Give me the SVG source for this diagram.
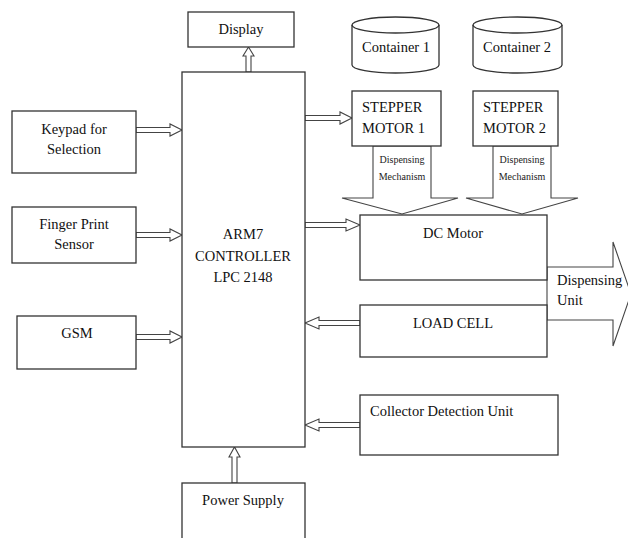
<svg xmlns="http://www.w3.org/2000/svg" width="628" height="538" viewBox="0 0 628 538">
<style>
.b{fill:#fff;stroke:#333;stroke-width:1.3}
.a{fill:#fff;stroke:#444;stroke-width:1.1;stroke-linejoin:miter}
text{font-family:'Liberation Serif','Times New Roman',serif}
.t{font-size:14.5px;fill:#111}
.s{font-size:10px;fill:#222}
.m{text-anchor:middle}
</style>
<rect width="628" height="538" fill="#fff"/>
<g id="connectors">
<polygon class="a" points="246,72 246,56 243,56 248.5,47 254,56 251,56 251,72"/>
<polygon class="a" points="136,127.5 170,127.5 170,124 182,130 170,136 170,132.5 136,132.5"/>
<polygon class="a" points="136,232.5 170,232.5 170,229 182,235 170,241 170,237.5 136,237.5"/>
<polygon class="a" points="136,334.5 170,334.5 170,331 182,337 170,343 170,339.5 136,339.5"/>
<polygon class="a" points="305,115.5 340,115.5 340,112 352,118 340,124 340,120.5 305,120.5"/>
<polygon class="a" points="305,222.5 346,222.5 346,219 360,225 346,231 346,227.5 305,227.5"/>
<polygon class="a" points="360,320.5 319,320.5 319,317 305,323 319,329 319,325.5 360,325.5"/>
<polygon class="a" points="360,422.5 319,422.5 319,419 305,425 319,431 319,427.5 360,427.5"/>
<polygon class="a" points="232,483 232,457 229,457 234.5,447 240,457 237,457 237,483"/>
<polygon class="a" points="373,146 431,146 431,198 458,198 402,214 342,198 373,198"/>
<polygon class="a" points="493,146 551,146 551,198 578,198 522,214 466,198 493,198"/>
<polygon class="a" points="547,267 613,267 613,242 631,294 613,346 613,320 547,320"/>
<text class="s" x="402" y="163" text-anchor="middle">Dispensing</text>
<text class="s" x="402" y="180" text-anchor="middle">Mechanism</text>
<text class="s" x="522" y="163" text-anchor="middle">Dispensing</text>
<text class="s" x="522" y="180" text-anchor="middle">Mechanism</text>
<text class="t" x="557" y="285">Dispensing</text>
<text class="t" x="557" y="305">Unit</text>
</g>
<g id="display"><rect class="b" x="188" y="12" width="106" height="35"/><text class="t m" x="241" y="34">Display</text></g>
<g id="arm7"><rect class="b" x="182" y="72" width="123" height="375"/>
<text class="t m" x="243" y="239">ARM7</text><text class="t m" x="243" y="261">CONTROLLER</text><text class="t m" x="243" y="282">LPC 2148</text></g>
<g id="keypad"><rect class="b" x="12" y="111" width="124" height="62"/><text class="t m" x="74" y="134">Keypad for</text><text class="t m" x="74" y="154">Selection</text></g>
<g id="finger"><rect class="b" x="12" y="207" width="124" height="56"/><text class="t m" x="74" y="229">Finger Print</text><text class="t m" x="74" y="249">Sensor</text></g>
<g id="gsm"><rect class="b" x="17" y="316" width="119" height="53"/><text class="t m" x="77" y="338">GSM</text></g>
<g id="container1"><path class="b" d="M352,25 A43.5,8 0 0 1 439,25 V65 A43.5,8 0 0 1 352,65 Z"/><path fill="none" stroke="#333" stroke-width="1.3" d="M352,25 A43.5,8 0 0 0 439,25"/><text class="t m" x="396" y="52">Container 1</text></g>
<g id="container2"><path class="b" d="M473,25 A44.5,8 0 0 1 562,25 V65 A44.5,8 0 0 1 473,65 Z"/><path fill="none" stroke="#333" stroke-width="1.3" d="M473,25 A44.5,8 0 0 0 562,25"/><text class="t m" x="517" y="52">Container 2</text></g>
<g id="stepper1"><rect class="b" x="352" y="91" width="89" height="55"/><text class="t" x="362" y="112">STEPPER</text><text class="t" x="362" y="133">MOTOR 1</text></g>
<g id="stepper2"><rect class="b" x="473" y="91" width="85" height="55"/><text class="t" x="483" y="112">STEPPER</text><text class="t" x="483" y="133">MOTOR 2</text></g>
<g id="dcmotor"><rect class="b" x="360" y="215" width="187" height="65"/><text class="t m" x="453" y="238">DC Motor</text></g>
<g id="loadcell"><rect class="b" x="360" y="305" width="187" height="52"/><text class="t m" x="453" y="328">LOAD CELL</text></g>
<g id="collector"><rect class="b" x="360" y="395" width="198" height="60"/><text class="t" x="370" y="416">Collector Detection Unit</text></g>
<g id="power"><rect class="b" x="182" y="483" width="123" height="60"/><text class="t m" x="243" y="505">Power Supply</text></g>
</svg>
